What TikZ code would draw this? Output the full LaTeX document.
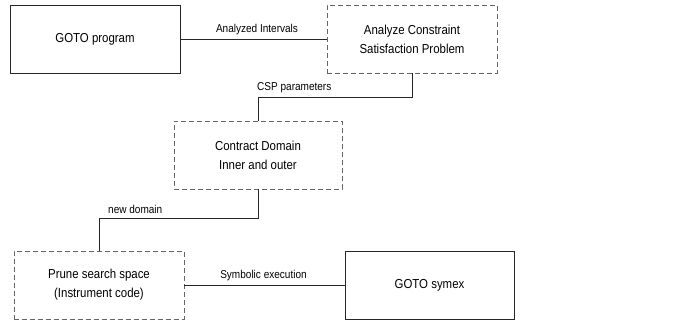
\documentclass[tikz,border=0pt]{standalone}
\usepackage{fontspec}
\setmainfont{Liberation Sans}
\newfontfamily\narrowfont[FakeStretch=0.88]{Liberation Sans}
\begin{document}
\begin{tikzpicture}[x=1pt,y=-1pt,
  box/.style={draw=black!85,line width=0.8pt,minimum width=170pt,minimum height=68pt,inner sep=0pt,align=center,font=\narrowfont\fontsize{13}{19}\selectfont},
  dbox/.style={box,draw=black!60,dash pattern=on 5pt off 3pt},
  lab/.style={font=\narrowfont\fontsize{11.4}{12}\selectfont,inner sep=0pt},
  conn/.style={draw=black!85,line width=0.8pt}]
\useasboundingbox (0,0) rectangle (681,324);
\node[box] (goto) at (95,39) {GOTO program};
\node[dbox] (an) at (412,39) {Analyze Constraint\\Satisfaction Problem};
\node[dbox,minimum width=168pt] (cd) at (258,155) {Contract Domain\\Inner and outer};
\node[dbox] (pr) at (99,285) {Prune search space\\(Instrument code)};
\node[box,minimum width=169pt] (sx) at (429.5,285) {GOTO symex};
\coordinate (c1) at (258,97);
\coordinate (c2) at (99,218);
\draw[conn] (goto.east) -- (an.west);
\draw[conn] (an.south) |- (c1) -- (cd.north);
\draw[conn] (cd.south) |- (c2) -- (pr.north);
\draw[conn] (pr.east) -- (sx.west);
\node[lab] (l1) at (257,30) {Analyzed Intervals};
\node[lab,anchor=west] (l2) at (257,88) {CSP parameters};
\node[lab,anchor=west] (l3) at (108,209) {new domain};
\node[lab] (l4) at (263.5,276) {Symbolic execution};
\end{tikzpicture}
\end{document}
